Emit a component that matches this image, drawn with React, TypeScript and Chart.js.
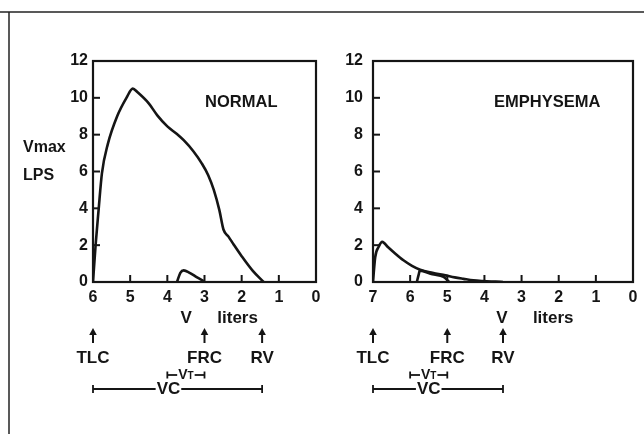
import React, { useEffect, useRef } from "react";
import { Chart, registerables } from "chart.js";
Chart.register(...registerables);

// ---- data ----
const normalVolume = [6.0, 5.93, 5.85, 5.76, 5.6, 5.35, 5.1, 4.93, 4.8, 4.5, 4.27, 4.0, 3.75, 3.56, 3.3, 3.07, 2.9, 2.75, 2.6, 2.49, 2.35, 2.22, 2.0, 1.7, 1.41];
const normalFlow = [0, 2.0, 3.9, 5.9, 7.5, 9.0, 10.0, 10.5, 10.3, 9.7, 9.05, 8.45, 8.05, 7.7, 7.1, 6.43, 5.8, 5.0, 3.9, 2.85, 2.45, 2.05, 1.4, 0.6, 0];
const normalTidalVolume = [3.74, 3.65, 3.56, 3.4, 3.2, 3.02];
const normalTidalFlow = [0, 0.5, 0.63, 0.5, 0.25, 0.05];

const emphVolume = [7.0, 6.94, 6.85, 6.75, 6.6, 6.45, 6.18, 5.95, 5.73, 5.4, 5.05, 4.8, 4.56, 4.3, 4.02, 3.7, 3.5];
const emphFlow = [0, 1.36, 1.9, 2.18, 1.9, 1.63, 1.18, 0.88, 0.67, 0.5, 0.36, 0.25, 0.17, 0.09, 0.05, 0.02, 0];
const emphTidalVolume = [5.82, 5.77, 5.74, 5.4, 5.1, 4.95];
const emphTidalFlow = [0, 0.4, 0.62, 0.42, 0.28, 0];

const markerLabels = ["TLC", "FRC", "RV"];
const normalMarkers = [6, 3, 1.45];
const emphMarkers = [7, 5, 3.5];
const normalVT = [4, 3];
const emphVT = [6, 5];
const normalVC = [6, 1.45];
const emphVC = [7, 3.5];
const normalVCLabelAt = 3.97;
const emphVCLabelAt = 5.5;
const normalVLabelAt = 3.49;
const emphVLabelAt = 3.53;
const normalTitleAt = [2.01, 9.77];
const emphTitleAt = [2.31, 9.77];
const yAxisTitle = ["Vmax", "LPS"];

const INK = "#151515";
const FAMILY = "'Liberation Sans', Arial, sans-serif";

type PanelCfg = {
  title: string;
  titleAt: number[];
  maxV: number;
  main: { v: number[]; f: number[] };
  tidal: { v: number[]; f: number[] };
  markers: number[];
  vt: number[];
  vc: number[];
  vcLabelAt: number;
  vLabelAt: number;
  yWidth: number;
  yPad: number;
  padRight: number;
  showYTitle: boolean;
  frameLeft: boolean;
  frameTopEnd: number;
};

function line(ctx: CanvasRenderingContext2D, x1: number, y1: number, x2: number, y2: number) {
  ctx.beginPath();
  ctx.moveTo(x1, y1);
  ctx.lineTo(x2, y2);
  ctx.stroke();
}

function makePlugin(cfg: PanelCfg) {
  return {
    id: "annot",
    afterDraw(chart: any) {
      const ctx: CanvasRenderingContext2D = chart.ctx;
      const xs = chart.scales.x;
      const ys = chart.scales.y;
      const a = chart.chartArea;
      ctx.save();
      // outer frame
      ctx.strokeStyle = "#222";
      ctx.lineWidth = 1.5;
      line(ctx, 0, 12, cfg.frameTopEnd, 12);
      if (cfg.frameLeft) line(ctx, 9, 12, 9, chart.height);

      // plot box
      ctx.strokeStyle = INK;
      ctx.lineWidth = 2.2;
      ctx.strokeRect(a.left, a.top, a.right - a.left, a.bottom - a.top);

      // inward ticks
      ctx.lineWidth = 2;
      ys.ticks.forEach((t: any) => {
        if (t.value <= 0 || t.value >= 12) return;
        const y = ys.getPixelForValue(t.value);
        line(ctx, a.left, y, a.left + 7, y);
      });
      xs.ticks.forEach((t: any) => {
        if (t.value <= 0 || t.value >= cfg.maxV) return;
        const x = xs.getPixelForValue(t.value);
        line(ctx, x, a.bottom, x, a.bottom - 7);
      });

      ctx.fillStyle = INK;
      ctx.textBaseline = "middle";

      // panel title
      ctx.font = `bold 16.5px ${FAMILY}`;
      ctx.textAlign = "center";
      ctx.fillText(cfg.title, xs.getPixelForValue(cfg.titleAt[0]), ys.getPixelForValue(cfg.titleAt[1]));

      // y axis title
      if (cfg.showYTitle) {
        ctx.textAlign = "left";
        ctx.font = `bold 16px ${FAMILY}`;
        ctx.fillText(yAxisTitle[0], 23, ys.getPixelForValue(7.3));
        ctx.fillText(yAxisTitle[1], 23, ys.getPixelForValue(5.8));
      }

      // V liters
      const vx = xs.getPixelForValue(cfg.vLabelAt);
      ctx.font = `bold 17px ${FAMILY}`;
      ctx.textAlign = "center";
      ctx.fillText("V", vx, a.bottom + 36);
      ctx.textAlign = "left";
      ctx.fillText("liters", vx + 31, a.bottom + 36);

      // arrows + labels
      ctx.lineWidth = 2;
      cfg.markers.forEach((m, i) => {
        const x = xs.getPixelForValue(m);
        const top = a.bottom + 46;
        line(ctx, x, top + 4, x, a.bottom + 61);
        ctx.beginPath();
        ctx.moveTo(x, top);
        ctx.lineTo(x - 3.8, top + 7);
        ctx.lineTo(x + 3.8, top + 7);
        ctx.closePath();
        ctx.fill();
        ctx.font = `bold 17px ${FAMILY}`;
        ctx.textAlign = "center";
        ctx.fillText(markerLabels[i], x, a.bottom + 76);
      });

      // VT bracket
      {
        const x1 = xs.getPixelForValue(cfg.vt[0]);
        const x2 = xs.getPixelForValue(cfg.vt[1]);
        const y = a.bottom + 93;
        const mid = (x1 + x2) / 2;
        ctx.font = `bold 14px ${FAMILY}`;
        const wV = ctx.measureText("V").width;
        ctx.font = `bold 10px ${FAMILY}`;
        const wT = ctx.measureText("T").width;
        const tw = wV + wT;
        const ts = mid - tw / 2;
        const te = mid + tw / 2;
        ctx.lineWidth = 1.8;
        line(ctx, x1, y - 3.5, x1, y + 3.5);
        line(ctx, x1, y, ts - 1, y);
        line(ctx, te + 1, y, x2, y);
        line(ctx, x2, y - 3.5, x2, y + 3.5);
        ctx.textAlign = "left";
        ctx.font = `bold 14px ${FAMILY}`;
        ctx.fillText("V", ts, y);
        ctx.font = `bold 10px ${FAMILY}`;
        ctx.fillText("T", ts + wV, y + 1);
      }

      // VC bracket
      {
        const x1 = xs.getPixelForValue(cfg.vc[0]);
        const x2 = xs.getPixelForValue(cfg.vc[1]);
        const y = a.bottom + 107;
        const lx = xs.getPixelForValue(cfg.vcLabelAt);
        ctx.font = `bold 17px ${FAMILY}`;
        const w = ctx.measureText("VC").width;
        ctx.lineWidth = 1.8;
        line(ctx, x1, y - 4, x1, y + 4);
        line(ctx, x1, y, lx - w / 2 - 1, y);
        line(ctx, lx + w / 2 + 1, y, x2, y);
        line(ctx, x2, y - 4, x2, y + 4);
        ctx.textAlign = "center";
        ctx.fillText("VC", lx, y);
      }
      ctx.restore();
    },
  };
}

function buildChart(canvas: HTMLCanvasElement, cfg: PanelCfg) {
  const toPts = (v: number[], f: number[]) => v.map((x, i) => ({ x, y: f[i] }));
  const ds = (pts: any) => ({
    data: pts,
    borderColor: INK,
    borderWidth: 2.6,
    pointRadius: 0,
    fill: false,
    cubicInterpolationMode: "monotone" as const,
  });
  return new Chart(canvas, {
    type: "line",
    data: {
      datasets: [ds(toPts(cfg.main.v, cfg.main.f)), ds(toPts(cfg.tidal.v, cfg.tidal.f))],
    },
    options: {
      animation: false,
      responsive: false,
      maintainAspectRatio: false,
      devicePixelRatio: 1,
      layout: { padding: { left: 0, top: 61, right: cfg.padRight, bottom: 122 } },
      plugins: { legend: { display: false }, tooltip: { enabled: false } },
      scales: {
        x: {
          type: "linear",
          reverse: true,
          min: 0,
          max: cfg.maxV,
          grid: { display: false, drawTicks: false },
          border: { display: false },
          ticks: {
            stepSize: 1,
            autoSkip: false,
            maxRotation: 0,
            padding: 6,
            color: INK,
            font: { family: FAMILY, size: 16, weight: "bold" },
          },
          afterFit: (s: any) => {
            s.height = 30;
          },
        },
        y: {
          type: "linear",
          min: 0,
          max: 12,
          grid: { display: false, drawTicks: false },
          border: { display: false },
          ticks: {
            stepSize: 2,
            padding: cfg.yPad,
            color: INK,
            font: { family: FAMILY, size: 16, weight: "bold" },
          },
          afterFit: (s: any) => {
            s.width = cfg.yWidth;
          },
        },
      },
    },
    plugins: [makePlugin(cfg)],
  } as any);
}

const normalCfg: PanelCfg = {
  title: "NORMAL",
  titleAt: normalTitleAt,
  maxV: 6,
  main: { v: normalVolume, f: normalFlow },
  tidal: { v: normalTidalVolume, f: normalTidalFlow },
  markers: normalMarkers,
  vt: normalVT,
  vc: normalVC,
  vcLabelAt: normalVCLabelAt,
  vLabelAt: normalVLabelAt,
  yWidth: 93,
  yPad: 5,
  padRight: 14,
  showYTitle: true,
  frameLeft: true,
  frameTopEnd: 322,
};

const emphCfg: PanelCfg = {
  title: "EMPHYSEMA",
  titleAt: emphTitleAt,
  maxV: 7,
  main: { v: emphVolume, f: emphFlow },
  tidal: { v: emphTidalVolume, f: emphTidalFlow },
  markers: emphMarkers,
  vt: emphVT,
  vc: emphVC,
  vcLabelAt: emphVCLabelAt,
  vLabelAt: emphVLabelAt,
  yWidth: 51,
  yPad: 10,
  padRight: 11,
  showYTitle: false,
  frameLeft: false,
  frameTopEnd: 322,
};

export default function App() {
  const ref1 = useRef<HTMLCanvasElement>(null);
  const ref2 = useRef<HTMLCanvasElement>(null);
  useEffect(() => {
    Chart.defaults.font.family = FAMILY;
    const c1 = buildChart(ref1.current!, normalCfg);
    const c2 = buildChart(ref2.current!, emphCfg);
    return () => {
      c1.destroy();
      c2.destroy();
    };
  }, []);
  return (
    <div style={{ position: "fixed", left: 0, top: 0, width: 644, height: 434, background: "#fff" }}>
      <canvas ref={ref1} width={330} height={434} style={{ position: "absolute", left: 0, top: 0, width: 330, height: 434 }} />
      <canvas ref={ref2} width={322} height={434} style={{ position: "absolute", left: 322, top: 0, width: 322, height: 434 }} />
    </div>
  );
}
